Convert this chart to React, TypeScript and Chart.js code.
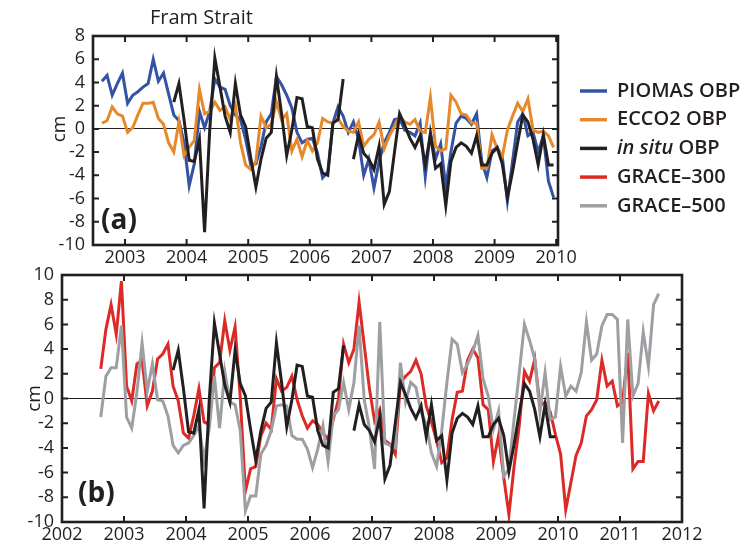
import { useEffect, useRef } from "react";
import { Chart, registerables } from "chart.js";

Chart.register(...registerables);

// ---------- data ----------
const START_YEAR = 2002;
const START_MONTH = 8; // first monthly value: August 2002

const YEAR_TICKS_A = [2003, 2004, 2005, 2006, 2007, 2008, 2009, 2010];
const YEAR_TICKS_B = [2002, 2003, 2004, 2005, 2006, 2007, 2008, 2009, 2010, 2011, 2012];
const CM_TICKS_A = [-10, -8, -6, -4, -2, 0, 2, 4, 6, 8];
const CM_TICKS_B = [-10, -8, -6, -4, -2, 0, 2, 4, 6, 8, 10];

const SERIES_NAMES = ["PIOMAS OBP", "ECCO2 OBP", "in situ OBP", "GRACE–300", "GRACE–500"];

const PIOMAS = [
  4.1, 4.6, 2.9, 3.9, 4.8, 2.2, 2.9, 3.2, 3.6, 3.9, 6.0, 4.1, 4.8, 3.0, 1.2, 0.7, -1.2, -4.9, -3.0, 1.5,
  0.1, 1.5, 4.3, 3.6, 3.4, 2.0, 1.2, 0.8, -0.9, -3.1, -3.0, -1.5, 0.6, 1.3, 4.5, 3.8, 2.9, 1.8, -0.3, -1.2,
  -0.9, -0.8, -2.1, -4.2, -3.7, 0.5, 1.9, 1.1, -0.3, 0.6, -0.9, -4.0, -2.6, -5.1, -2.8, -1.2, -0.3, 0.8, 0.9, -0.1,
  -0.3, -0.6, 0.5, -4.1, -0.3, -2.6, -1.3, -5.0, -2.0, 0.5, 1.1, 0.9, 0.4, 1.3, -2.8, -4.2, -1.9, -1.6, -2.4, -6.2,
  -2.8, 0.6, 1.3, -0.6, -0.3, -2.0, -0.6, -4.5, -5.9,
];

const ECCO2 = [
  0.5, 0.7, 1.9, 1.3, 1.1, -0.3, 0.1, 1.2, 2.2, 2.2, 2.3, 0.9, 0.4, -1.2, -2.0, 0.6, -2.3, -1.6, -1.0, 3.4,
  1.3, 1.5, 2.3, 1.6, 1.9, 0.8, 2.0, -1.2, -3.1, -3.5, -2.8, 1.1, 0.1, 0.4, 2.3, 0.8, 1.3, -1.9, -0.9, -2.4,
  -1.0, -1.9, -1.2, 0.9, 0.6, 0.5, 0.9, 0.2, -0.2, -0.3, 0.6, -1.5, -0.9, -0.5, 0.6, -1.7, -0.6, 0.2, 1.1, 0.6,
  0.4, 0.8, -0.2, -0.3, 2.7, -1.5, -1.9, -1.7, 2.9, 2.3, 1.3, 1.2, 0.5, 0.5, -3.4, -3.4, -0.5, -1.7, -2.4, -0.1,
  1.1, 2.2, 1.5, 2.6, -0.1, -0.3, -0.2, -0.6, -1.6,
];

const IN_SITU_OFFSET = 14; // in situ record begins October 2003
const IN_SITU = [
  2.3, 3.9, 0.8, -2.7, -2.8, -0.9, -8.9, -0.1, 6.1, 3.6, 1.1, -0.3, 3.9, 1.2, 0.2, -2.5, -5.0, -2.6, -0.8, -0.3,
  4.5, 1.3, -2.3, -0.1, 2.7, 2.6, 0.2, 0.1, -2.6, -3.8, -4.0, 0.5, 0.8, 4.3, null, -2.6, -0.5, -2.1, -2.6, -3.5,
  -1.5, -6.5, -5.4, -2.0, 1.3, 0.3, -0.8, -1.6, -0.6, -3.1, -0.5, -3.4, -3.0, -6.6, -2.8, -1.6, -1.2, -1.5, -2.1, -0.6,
  -3.1, -3.1, -2.1, -1.6, -3.0, -5.9, -3.7, -1.2, 1.2, 0.6, -0.9, -3.1, -0.5, -3.1, -3.1,
];

const GRACE_300 = [
  2.4, 5.6, 7.6, 5.2, 9.5, 1.0, -0.2, 2.8, 3.1, -0.6, 0.6, 3.2, 3.6, 4.4, 1.0, -0.2, -2.8, -3.2, -1.4, 0.8,
  -1.9, -2.1, 2.5, 2.9, 6.3, 3.9, 5.8, 0.1, -7.5, -5.7, -5.5, -3.0, -2.0, -2.5, 1.6, 0.6, 0.9, 1.8, -0.1, -1.4,
  -2.4, -1.8, -2.1, -2.8, -3.3, -1.7, -0.1, 4.4, 2.9, 4.0, 7.8, 4.3, 0.8, -1.8, -0.9, -3.4, -3.7, -4.5, 1.3, 1.8,
  2.2, 3.1, 2.0, -0.6, -1.9, -3.4, -5.2, -4.8, -1.7, 0.5, 0.6, 3.1, 4.0, 3.3, -0.5, -0.9, -5.1, -3.0, -6.4, -9.4,
  -5.5, -2.2, 2.2, 1.4, 3.2, -0.6, -0.3, -1.1, -2.9, -4.5, -9.0, -6.8, -4.6, -3.6, -1.4, -0.9, -0.1, 3.1, 1.0, 1.4,
  -0.6, -0.3, 3.7, -5.7, -5.1, -5.1, 0.4, -1.0, -0.2,
];

const GRACE_500 = [
  -1.5, 1.8, 2.5, 2.5, 5.9, -1.5, -2.4, 0.5, 4.5, 0.6, 2.8, -0.1, -0.2, -1.4, -3.8, -4.4, -3.8, -3.6, -3.0, -2.2,
  -5.0, -2.4, 1.8, -2.4, 2.2, -0.3, -0.5, -2.6, -9.1, -7.9, -7.9, -4.5, -3.8, -2.6, -0.6, -0.5, -0.6, -3.0, -3.3, -3.3,
  -4.1, -5.6, -4.1, -2.2, -5.1, -1.4, -0.9, 1.3, -0.9, 1.3, 5.9, -0.1, -2.4, -5.7, 6.2, -3.6, -3.8, -4.0, 2.9, -0.3,
  1.3, 0.9, -1.1, -2.1, -4.4, -5.5, -2.6, 1.3, 4.8, 4.4, 2.1, 2.8, 3.8, 5.1, 1.6, 0.2, -2.5, -1.0, -6.3, -5.7,
  -1.7, 2.1, 6.0, 4.7, 3.2, -1.1, 2.1, -1.7, -1.5, 2.6, 0.2, 1.0, 0.6, 2.1, 6.2, 3.1, 3.6, 5.9, 6.8, 6.8,
  6.4, -3.6, 6.4, 0.2, 1.2, 5.4, 2.6, 7.6, 8.5,
];

// ---------- styles ----------
const INK = "#231f20";
const BLUE = "#3553a4";
const ORANGE = "#e7892b";
const RED = "#dc2b27";
const GRAY = "#9d9fa2";
const SERIES_COLORS = [BLUE, ORANGE, INK, RED, GRAY];
const FONT = '"Open Sans", "DejaVu Sans", sans-serif';

const monthToYear = (i: number) => START_YEAR + (START_MONTH - 1 + i + 0.5) / 12;
const toPoints = (arr: (number | null)[], offset = 0) =>
  arr.map((v, i) => ({ x: monthToYear(i + offset), y: v }));

const lineDs = (label: string, data: any[], color: string) => ({
  label,
  data,
  borderColor: color,
  backgroundColor: color,
  borderWidth: 3,
  pointRadius: 0,
  pointHoverRadius: 0,
  tension: 0,
  spanGaps: false,
  fill: false,
});

const framePlugin = {
  id: "frameTicks",
  afterDatasetsDraw(chart: any) {
    const { ctx, chartArea, scales } = chart;
    const { left, right, top, bottom } = chartArea;
    const L = 6;
    ctx.save();
    ctx.strokeStyle = INK;
    ctx.lineWidth = 2;
    ctx.beginPath();
    scales.x.ticks.forEach((t: any) => {
      const px = scales.x.getPixelForValue(t.value);
      ctx.moveTo(px, bottom);
      ctx.lineTo(px, bottom - L);
      ctx.moveTo(px, top);
      ctx.lineTo(px, top + L);
    });
    scales.y.ticks.forEach((t: any) => {
      const py = scales.y.getPixelForValue(t.value);
      ctx.moveTo(left, py);
      ctx.lineTo(left + L, py);
      ctx.moveTo(right, py);
      ctx.lineTo(right - L, py);
    });
    ctx.stroke();
    ctx.lineWidth = 2.6;
    ctx.strokeRect(left, top, right - left, bottom - top);
    ctx.restore();
  },
};

function makeScales(
  xmin: number,
  xmax: number,
  xticks: number[],
  ymin: number,
  ymax: number,
  yticks: number[],
  yWidth: number,
  xHeight: number
) {
  const tickFont = { family: FONT, size: 18 };
  return {
    x: {
      type: "linear",
      min: xmin,
      max: xmax,
      afterBuildTicks: (s: any) => {
        s.ticks = xticks.map((v) => ({ value: v }));
      },
      afterFit: (s: any) => {
        s.height = xHeight;
      },
      ticks: {
        color: INK,
        font: tickFont,
        padding: 2,
        maxRotation: 0,
        autoSkip: false,
        callback: (v: any) => String(v),
      },
      grid: { display: false, drawTicks: false },
      border: { display: false },
    },
    y: {
      type: "linear",
      min: ymin,
      max: ymax,
      afterBuildTicks: (s: any) => {
        s.ticks = yticks.map((v) => ({ value: v }));
      },
      afterFit: (s: any) => {
        s.width = yWidth;
      },
      ticks: {
        color: INK,
        font: tickFont,
        padding: 8,
        autoSkip: false,
        callback: (v: any) => String(v),
      },
      grid: {
        drawTicks: false,
        lineWidth: 1,
        color: (c: any) => (c.tick && c.tick.value === 0 ? INK : "rgba(0,0,0,0)"),
      },
      border: { display: false },
    },
  };
}

export default function App() {
  const refA = useRef<HTMLCanvasElement>(null);
  const refB = useRef<HTMLCanvasElement>(null);

  useEffect(() => {
    const annotA = {
      id: "annotA",
      afterDraw(chart: any) {
        const { ctx, chartArea } = chart;
        const { left, right, top, bottom } = chartArea;
        ctx.save();
        ctx.fillStyle = INK;
        // title
        ctx.font = `20px ${FONT}`;
        ctx.textAlign = "left";
        ctx.textBaseline = "middle";
        ctx.fillText("Fram Strait", left + 57, top - 18);
        // panel letter
        ctx.font = `bold 28px ${FONT}`;
        ctx.fillText("(a)", left + 8, bottom - 24);
        // y title
        ctx.save();
        ctx.translate(60, chart.scales.y.getPixelForValue(0));
        ctx.rotate(-Math.PI / 2);
        ctx.textAlign = "center";
        ctx.font = `19px ${FONT}`;
        ctx.fillText("cm", 0, 0);
        ctx.restore();
        // legend
        SERIES_NAMES.forEach((name, i) => {
          const y = top + 55 + i * 28.7;
          ctx.strokeStyle = SERIES_COLORS[i];
          ctx.lineWidth = 3.5;
          ctx.beginPath();
          ctx.moveTo(right + 22, y);
          ctx.lineTo(right + 49, y);
          ctx.stroke();
          ctx.fillStyle = INK;
          ctx.textAlign = "left";
          ctx.textBaseline = "middle";
          const tx = right + 59;
          if (name.startsWith("in situ")) {
            ctx.font = `italic 600 20px ${FONT}`;
            ctx.fillText("in situ", tx, y);
            const w = ctx.measureText("in situ").width;
            ctx.font = `600 20px ${FONT}`;
            ctx.fillText(name.slice(7), tx + w, y);
          } else {
            ctx.font = `600 20px ${FONT}`;
            ctx.fillText(name, tx, y);
          }
        });
        ctx.restore();
      },
    };

    const annotB = {
      id: "annotB",
      afterDraw(chart: any) {
        const { ctx, chartArea } = chart;
        const { left, bottom } = chartArea;
        ctx.save();
        ctx.fillStyle = INK;
        ctx.textBaseline = "middle";
        ctx.textAlign = "left";
        ctx.font = `bold 28px ${FONT}`;
        ctx.fillText("(b)", left + 16, bottom - 28);
        ctx.save();
        ctx.translate(35, chart.scales.y.getPixelForValue(0));
        ctx.rotate(-Math.PI / 2);
        ctx.textAlign = "center";
        ctx.font = `19px ${FONT}`;
        ctx.fillText("cm", 0, 0);
        ctx.restore();
        ctx.restore();
      },
    };

    const chartA = new Chart(refA.current as HTMLCanvasElement, {
      type: "line",
      data: {
        datasets: [
          lineDs(SERIES_NAMES[2], toPoints(IN_SITU, IN_SITU_OFFSET), INK),
          lineDs(SERIES_NAMES[1], toPoints(ECCO2), ORANGE),
          lineDs(SERIES_NAMES[0], toPoints(PIOMAS), BLUE),
        ],
      },
      options: {
        animation: false,
        responsive: false,
        maintainAspectRatio: false,
        devicePixelRatio: 1,
        events: [],
        layout: { padding: { left: 0, right: 191, top: 36, bottom: 273 } },
        plugins: { legend: { display: false }, tooltip: { enabled: false }, title: { display: false } },
        scales: makeScales(2002.48, 2010.03, YEAR_TICKS_A, -10, 8, CM_TICKS_A, 93, 30) as any,
      },
      plugins: [framePlugin, annotA],
    } as any);

    const chartB = new Chart(refB.current as HTMLCanvasElement, {
      type: "line",
      data: {
        datasets: [
          lineDs(SERIES_NAMES[2], toPoints(IN_SITU, IN_SITU_OFFSET), INK),
          lineDs(SERIES_NAMES[4], toPoints(GRACE_500), GRAY),
          lineDs(SERIES_NAMES[3], toPoints(GRACE_300), RED),
        ],
      },
      options: {
        animation: false,
        responsive: false,
        maintainAspectRatio: false,
        devicePixelRatio: 1,
        events: [],
        layout: { padding: { left: 0, right: 67, top: 275, bottom: 0 } },
        plugins: { legend: { display: false }, tooltip: { enabled: false }, title: { display: false } },
        scales: makeScales(2002, 2012, YEAR_TICKS_B, -10, 10, CM_TICKS_B, 62, 26) as any,
      },
      plugins: [framePlugin, annotB],
    } as any);

    return () => {
      chartA.destroy();
      chartB.destroy();
    };
  }, []);

  return (
    <div
      style={{
        position: "absolute",
        left: 0,
        top: 0,
        width: 749,
        height: 548,
        background: "#ffffff",
        overflow: "hidden",
      }}
    >
      <canvas ref={refA} width={749} height={548} style={{ position: "absolute", left: 0, top: 0 }} />
      <canvas ref={refB} width={749} height={548} style={{ position: "absolute", left: 0, top: 0 }} />
    </div>
  );
}
